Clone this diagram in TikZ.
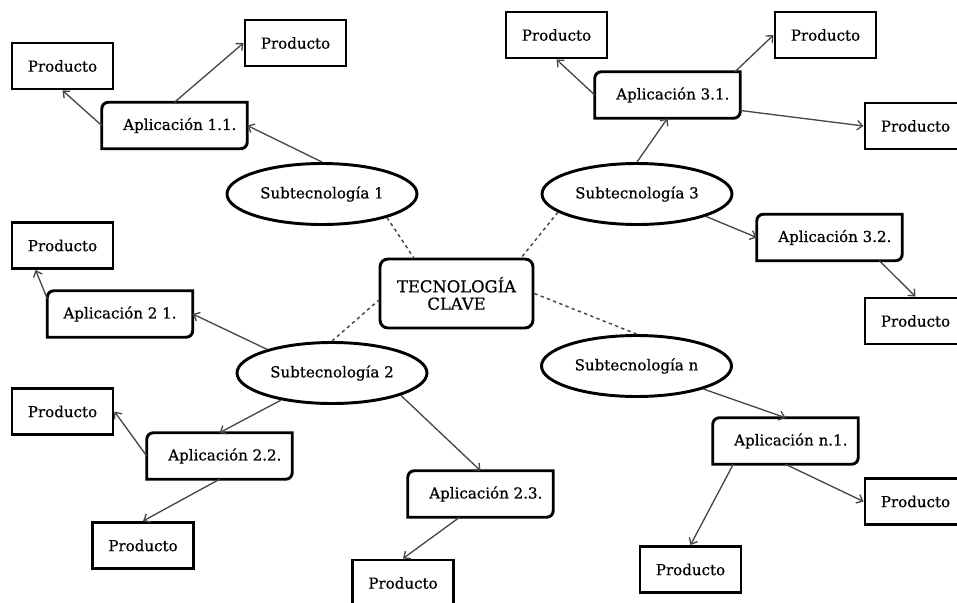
\documentclass[tikz,border=0pt]{standalone}
\usepackage{fontspec}
\setmainfont[FakeBold=0.6]{DejaVu Serif}
\usetikzlibrary{arrows.meta,shapes.geometric}
\newcommand\appframe[1]{%
  \draw[appline] ([xshift=5pt]#1.north west) -- (#1.north east) -- ([yshift=5pt]#1.south east)
    arc[start angle=0,end angle=-90,radius=5pt] -- (#1.south west) -- ([yshift=-5pt]#1.north west)
    arc[start angle=180,end angle=90,radius=5pt] -- cycle;}
\begin{document}
\begin{tikzpicture}[x=0.75pt,y=-0.75pt,
  every node/.style={font={\fontsize{11.3}{13}\selectfont}},
  prod/.style={draw,line width=2.2pt,minimum width=75.75pt,minimum height=34.5pt,inner sep=0pt},
  app/.style={minimum width=108.75pt,minimum height=34.5pt,inner sep=0pt},
  appline/.style={draw,line width=2.2pt},
  sub/.style={ellipse,draw,line width=2.2pt,minimum width=142.5pt,minimum height=45.75pt,inner sep=0pt},
  keybox/.style={draw,line width=2.2pt,rounded corners=6pt,minimum width=114.75pt,minimum height=51.75pt,align=center,inner sep=0pt,font={\fontsize{12.3}{13}\selectfont}},
  arr/.style={draw=black!72,line width=1pt,-{Straight Barb[length=4pt,width=7pt]}},
  dotline/.style={draw=black!72,line width=1.1pt,dash pattern=on 2.5pt off 2.5pt}]
\useasboundingbox (0,0) rectangle (957,603);
\clip (0,0) rectangle (957,603);

% central
\node[keybox] (T) at (456.5,293.5) {TECNOLOGÍA\\CLAVE};

% sub-technologies
\node[sub] (S1) at (322,194) {Subtecnología 1};
\node[sub] (S2) at (332,373) {Subtecnología 2};
\node[sub] (S3) at (637,194) {Subtecnología 3};
\node[sub] (Sn) at (636.5,366) {Subtecnología n};

% applications
\node[app] (A11) at (174.5,125.5) {\hspace*{8pt}Aplicación 1.1.};
\node[app] (A21) at (120,314) {Aplicación 2 1.};
\node[app] (A22) at (219.5,456) {\hspace*{8pt}Aplicación 2.2.};
\node[app] (A23) at (480.5,494) {\hspace*{8pt}Aplicación 2.3.};
\node[app] (A31) at (667.5,95) {\hspace*{8pt}Aplicación 3.1.};
\node[app] (A32) at (829.5,237.5) {\hspace*{8pt}Aplicación 3.2.};
\node[app] (An1) at (785.5,441) {\hspace*{8pt}Aplicación n.1.};
\appframe{A11}\appframe{A21}\appframe{A22}\appframe{A23}
\appframe{A31}\appframe{A32}\appframe{An1}

% products
\node[prod] (P11a) at (62.5,66) {Producto};
\node[prod] (P11b) at (295.5,43) {Producto};
\node[prod] (P21) at (62.5,245.5) {Producto};
\node[prod] (P22a) at (62.5,411.5) {Producto};
\node[prod] (P22b) at (143,545.5) {Producto};
\node[prod] (P23) at (403,583) {Producto};
\node[prod] (P31a) at (556.5,35) {Producto};
\node[prod] (P31b) at (825.5,35) {Producto};
\node[prod] (P31c) at (915.5,126) {Producto};
\node[prod] (P32) at (915.5,321) {Producto};
\node[prod] (Pn1a) at (915.5,501.5) {Producto};
\node[prod] (Pn1b) at (690.5,569.5) {Producto};

% dotted links
\draw[dotline] (S1.-20) -- (T.140);
\draw[dotline] (S2.north) -- (T.185);
\draw[dotline] (S3.193) -- (T.29);
\draw[dotline] (T.east) -- (Sn.north);

% arrows
\draw[arr] (S1.north) -- (A11.east);
\draw[arr] (A11.west) -- (P11a.south);
\draw[arr] (A11.north) -- (P11b.west);

\draw[arr] (S2.160) -- (A21.east);
\draw[arr] (A21.168) -- ([xshift=18.75pt]P21.south west);
\draw[arr] (S2.208) -- (A22.north);
\draw[arr] (A22.west) -- (P22a.east);
\draw[arr] (A22.south) -- (P22b.north);
\draw[arr] (S2.-18) -- (A23.north);
\draw[arr] (A23.228) -- (P23.north);

\draw[arr] (S3.north) -- (A31.south);
\draw[arr] (A31.west) -- (P31a.south);
\draw[arr] (A31.19) -- (P31b.west);
\draw[arr] (A31.-12) -- (P31c.west);
\draw[arr] (S3.-18) -- (A32.west);
\draw[arr] (A32.-25) -- (P32.north);

\draw[arr] (Sn.-19) -- (An1.north);
\draw[arr] (An1.204) -- (Pn1b.north);
\draw[arr] (An1.south) -- (Pn1a.west);
\end{tikzpicture}
\end{document}
